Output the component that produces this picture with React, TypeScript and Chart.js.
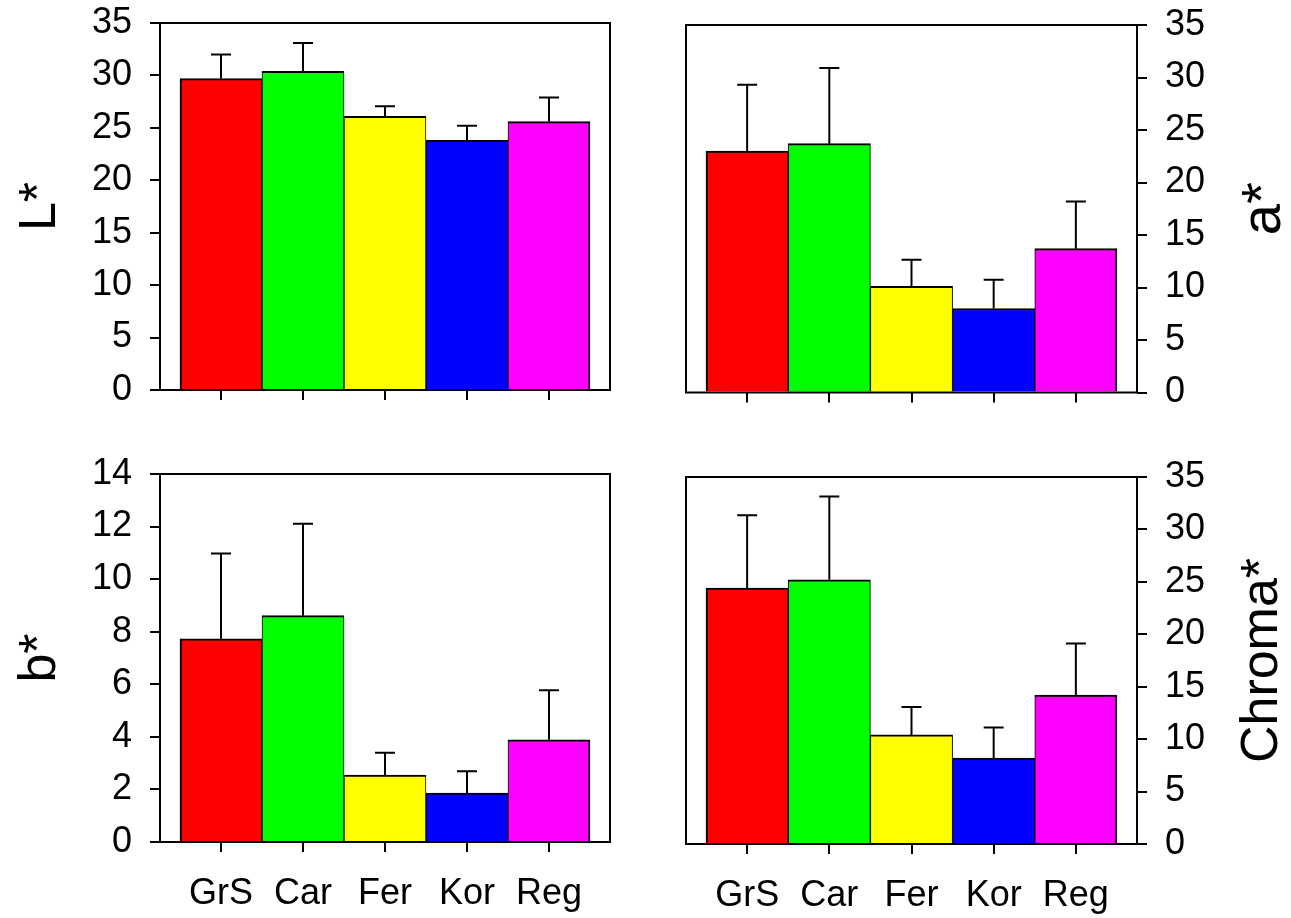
import React, { useEffect, useRef } from 'react';
import { Chart, registerables } from 'chart.js';

Chart.register(...registerables);

// ---------------- data ----------------
const CATEGORIES = ['GrS', 'Car', 'Fer', 'Kor', 'Reg'];
const BAR_COLORS = ['#FF0000', '#00FF00', '#FFFF00', '#0000FF', '#FF00FF'];

const L_MEANS = [29.7, 30.4, 26.1, 23.8, 25.6];
const L_ERRORS = [2.3, 2.7, 0.95, 1.4, 2.3];

const A_MEANS = [23.0, 23.7, 10.1, 8.0, 13.7];
const A_ERRORS = [6.3, 7.2, 2.55, 2.75, 4.5];

const B_MEANS = [7.73, 8.61, 2.55, 1.86, 3.89];
const B_ERRORS = [3.25, 3.5, 0.85, 0.83, 1.88];

const CHROMA_MEANS = [24.4, 25.2, 10.4, 8.2, 14.2];
const CHROMA_ERRORS = [6.95, 7.95, 2.67, 2.9, 4.93];

const Y_MAX_L = 35, Y_STEP_L = 5;
const Y_MAX_A = 35, Y_STEP_A = 5;
const Y_MAX_B = 14, Y_STEP_B = 2;
const Y_MAX_C = 35, Y_STEP_C = 5;

// ---------------- layout / style ----------------
const PAGE_W = 1291;
const PAGE_H = 918;
const FONT = "'Liberation Sans', Arial, Helvetica, sans-serif";
const X_EDGE = 0.244; // empty margin (in category units) at both ends of the x range

type Side = 'left' | 'right';
interface PanelSpec {
  title: string;
  means: number[];
  errors: number[];
  yMax: number;
  yStep: number;
  side: Side;
  area: { left: number; top: number; right: number; bottom: number };
  titleX: number;
  titleSize: number;
  showLabels: boolean;
}

const PANELS: PanelSpec[] = [
  { title: 'L*', means: L_MEANS, errors: L_ERRORS, yMax: Y_MAX_L, yStep: Y_STEP_L, side: 'left',
    area: { left: 160, top: 23, right: 610, bottom: 390 }, titleX: 55, titleSize: 52, showLabels: false },
  { title: 'a*', means: A_MEANS, errors: A_ERRORS, yMax: Y_MAX_A, yStep: Y_STEP_A, side: 'right',
    area: { left: 686, top: 25, right: 1137, bottom: 392.5 }, titleX: 1280, titleSize: 56, showLabels: false },
  { title: 'b*', means: B_MEANS, errors: B_ERRORS, yMax: Y_MAX_B, yStep: Y_STEP_B, side: 'left',
    area: { left: 160, top: 474, right: 610, bottom: 842 }, titleX: 55, titleSize: 52, showLabels: true },
  { title: 'Chroma*', means: CHROMA_MEANS, errors: CHROMA_ERRORS, yMax: Y_MAX_C, yStep: Y_STEP_C, side: 'right',
    area: { left: 686, top: 477, right: 1137, bottom: 844 }, titleX: 1277, titleSize: 52, showLabels: true },
];

function zeroPadding(scale: any) {
  scale.paddingTop = 0;
  scale.paddingBottom = 0;
  scale.paddingLeft = 0;
  scale.paddingRight = 0;
}

function buildConfig(spec: PanelSpec): any {
  const n = CATEGORIES.length;
  const a = spec.area;

  const framePlugin = {
    id: 'frameAndErrors',
    afterDatasetsDraw(chart: any) {
      const ctx = chart.ctx;
      const ca = chart.chartArea;
      const yScale = chart.scales.y;
      const meta = chart.getDatasetMeta(0);
      ctx.save();
      ctx.strokeStyle = '#000';
      ctx.lineWidth = 2;
      meta.data.forEach((el: any, i: number) => {
        const yTop = yScale.getPixelForValue(spec.means[i] + spec.errors[i]);
        ctx.beginPath();
        ctx.moveTo(el.x, el.y);
        ctx.lineTo(el.x, yTop);
        ctx.moveTo(el.x - 10, yTop);
        ctx.lineTo(el.x + 10, yTop);
        ctx.stroke();
      });
      ctx.strokeRect(ca.left, ca.top, ca.right - ca.left, ca.bottom - ca.top);
      ctx.restore();
    },
    afterDraw(chart: any) {
      const ctx = chart.ctx;
      const ca = chart.chartArea;
      ctx.save();
      ctx.fillStyle = '#000';
      ctx.font = `${spec.titleSize}px ${FONT}`;
      ctx.translate(spec.titleX, (ca.top + ca.bottom) / 2);
      ctx.rotate(-Math.PI / 2);
      ctx.textAlign = 'center';
      ctx.textBaseline = 'alphabetic';
      ctx.fillText(spec.title, 0, 0);
      ctx.restore();
    },
  };

  const isLeft = spec.side === 'left';
  const yAxisWidth = isLeft ? a.left : PAGE_W - a.right;

  return {
    type: 'bar',
    data: {
      datasets: [
        {
          data: spec.means.map((v, i) => ({ x: i, y: v })),
          backgroundColor: BAR_COLORS,
          borderColor: '#000',
          borderWidth: (c: any) => ({
            top: 2,
            bottom: 0,
            left: c.dataIndex === 0 ? 2 : 1,
            right: c.dataIndex === n - 1 ? 2 : 1,
          }),
          borderSkipped: false,
          barPercentage: 1,
          categoryPercentage: 1,
        },
      ],
    },
    options: {
      responsive: false,
      animation: false,
      events: [],
      layout: {
        padding: {
          left: isLeft ? 0 : a.left,
          right: isLeft ? PAGE_W - a.right : 0,
          top: a.top,
          bottom: 0,
        },
      },
      plugins: {
        legend: { display: false },
        tooltip: { enabled: false },
        title: { display: false },
      },
      scales: {
        x: {
          type: 'linear',
          position: 'bottom',
          bounds: 'data',
          offset: false,
          min: -0.5 - X_EDGE,
          max: n - 0.5 + X_EDGE,
          afterBuildTicks: (scale: any) => {
            scale.ticks = CATEGORIES.map((_, i) => ({ value: i }));
          },
          afterFit: (scale: any) => {
            scale.height = PAGE_H - a.bottom;
            zeroPadding(scale);
          },
          ticks: {
            autoSkip: false,
            maxRotation: 0,
            minRotation: 0,
            color: '#000',
            padding: 20,
            font: { family: FONT, size: 36 },
            callback: (v: any) => (spec.showLabels ? CATEGORIES[Math.round(Number(v))] ?? '' : ''),
          },
          grid: {
            offset: false,
            drawOnChartArea: false,
            drawTicks: true,
            tickLength: 10,
            color: '#000',
            lineWidth: 2,
          },
          border: { display: false },
        },
        y: {
          type: 'linear',
          position: spec.side,
          min: 0,
          max: spec.yMax,
          afterFit: (scale: any) => {
            scale.width = yAxisWidth;
            zeroPadding(scale);
          },
          ticks: {
            stepSize: spec.yStep,
            color: '#000',
            padding: 18,
            font: { family: FONT, size: 36 },
          },
          grid: {
            drawOnChartArea: false,
            drawTicks: true,
            tickLength: 10,
            color: '#000',
            lineWidth: 2,
          },
          border: { display: false },
        },
      },
    },
    plugins: [framePlugin],
  };
}

function Panel({ spec }: { spec: PanelSpec }) {
  const ref = useRef<HTMLCanvasElement | null>(null);
  useEffect(() => {
    if (!ref.current) return;
    const chart = new Chart(ref.current, buildConfig(spec));
    return () => chart.destroy();
  }, [spec]);
  return (
    <canvas
      ref={ref}
      width={PAGE_W}
      height={PAGE_H}
      style={{ position: 'absolute', left: 0, top: 0, width: PAGE_W, height: PAGE_H }}
    />
  );
}

export default function App() {
  return (
    <div
      style={{
        position: 'absolute',
        left: 0,
        top: 0,
        width: PAGE_W,
        height: PAGE_H,
        background: '#fff',
        overflow: 'hidden',
      }}
    >
      {PANELS.map((p) => (
        <Panel key={p.title} spec={p} />
      ))}
    </div>
  );
}
